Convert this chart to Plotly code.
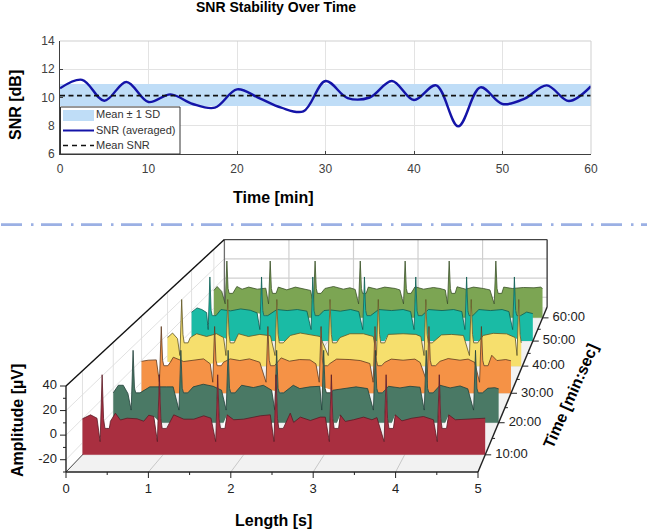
import plotly.graph_objects as go

FONT = "Liberation Sans"

# ---- SNR trend -------------------------------------------------------------
snr_minutes = [0, 2.5, 5, 7.5, 10, 12.5, 15, 17.5, 20, 22.5, 25, 27.5, 30, 32.5, 35,
               37.5, 40, 42.5, 45, 47.5, 50, 52.5, 55, 57.5, 60]
snr_db = [10.65, 11.25, 9.77, 11.1, 9.68, 10.22, 9.54, 9.28, 10.58, 9.96, 9.28, 9.02,
          11.17, 9.96, 10.0, 11.17, 9.82, 10.86, 7.96, 10.72, 9.54, 9.92, 10.86, 9.75, 10.8]
snr_mean = 10.13
snr_band = [9.4, 10.95]
legend_labels = ["Mean ± 1 SD", "SNR (averaged)", "Mean SNR"]

# ---- ECG waterfall: contour between beats as (seconds, µV) per recording time --
t_labels = ["10:00", "20:00", "30:00", "40:00", "50:00", "60:00"]
t_minutes = [10, 20, 30, 40, 50, 60]
colors = ["#A92F40", "#4A7965", "#F59246", "#F6DF6D", "#1ABBA5", "#7CA553"]
edge_colors = ["#5A1A24", "#21403A", "#5E3A20", "#5F5524", "#0E5A50", "#3A5028"]

red_s = [0.0, .10, .18, .347, .409, .471, .554, .678, .761, .823, .885, 1.05, 1.133, 1.258, 1.382,
         1.506, 1.596, 1.795, 1.878, 2.0, 2.208, 2.332, 2.498, 2.58, 2.622, 2.705, 2.83, 2.953, 3.015,
         3.201, 3.263, 3.366, 3.49, 3.594, 3.656, 3.883, 3.966, 4.09, 4.234, 4.358, 4.547, 4.63, 4.733, 4.9, 5.0]
red_uv = [0, 3.3, .5, -2, 4.7, -1, .5, 0, -2, 3, 2, .5, 3.3, -.3, -.3,
          2.5, .5, 3.3, -.8, -.3, 2.5, 3.3, -3.6, 4.7, -3, 1.4, -1.4, 1.4, 1.4,
          3.3, -2.2, -.8, 1.4, -.8, 1, 3.3, -1.7, .5, 1.9, -.8, 3.3, -.8, -.3, .5, .5]
red_r = [.244, .955, 1.679, 2.403, 3.09, 3.77, 4.43]

green_s = [0.0, .065, .129, .19, .344, .474, .69, .777, .929, 1.037, 1.167, 1.296, 1.405, 1.556, 1.665,
           1.817, 1.947, 2.055, 2.205, 2.335, 2.42, 2.55, 2.68, 2.85, 3.02, 3.15, 3.30, 3.52, 3.57, 3.72,
           3.85, 3.98, 4.24, 4.37, 4.50, 4.60, 4.86, 4.95, 5.0]
green_uv = [-4, 2.6, 2.6, -4.6, -1, 1.2, 1.2, 1.2, -1.7, 1.2, 3.5, 1.7, -1.7, -.3, 2.6,
            .6, 2.6, -1.7, -2.3, 2.6, -.3, 1.2, 1.7, -1.7, -.3, 1.2, -.3, -2, 1.7, .3,
            1.7, .9, 2.6, .3, 2, -.5, 0, .5, -.5]
green_r = [.257, .877, 1.49, 2.12, 2.73, 3.40, 4.06, 4.70]

orange_s = [0.0, .09, .2, .39, .43, .57, .70, .84, .93, 1.11, 1.20, 1.33, 1.46, 1.60, 1.89, 2.0, 2.14,
            2.28, 2.36, 2.55, 2.64, 2.82, 2.96, 3.09, 3.29, 3.38, 3.54, 3.70, 3.77, 4.04, 4.15, 4.31,
            4.42, 4.51, 4.74, 4.81, 4.93, 5.0]
orange_uv = [-1, 0, .3, -1.8, 2.7, -1.2, -.3, 1.2, -3.3, -1.8, 1.2, -.3, 1.2, -1.8, 2.1, -.9, .6,
             .3, -3.3, -3, 1, .6, -.3, -3, -2, 1, 0, 1, -2, -1, 1.5, 0,
             1, -2, 4.5, -.3, .6, -.5]
orange_r = [.267, .989, 1.71, 2.43, 3.16, 3.89, 4.60]

yellow_s = [0.0, .07, .14, .32, .41, .55, .69, .79, 1.0, 1.14, 1.30, 1.45, 1.73, 1.87, 2.0, 2.15, 2.43,
            2.57, 2.76, 2.90, 3.11, 3.32, 3.50, 3.57, 3.86, 4.0, 4.17, 4.45, 4.59, 4.78, 4.90]
yellow_uv = [-3, 1.3, -4, -3, .6, -2, .6, -3, .6, -2, 0, -1.3, -1, 1.3, 0, -2, -3,
             .6, .6, -2, 0, .6, 0, -2, -.5, 0, -1, -1, 1, .5, -3]
yellow_r = [.199, .848, 1.54, 2.29, 2.97, 3.64, 4.28, 4.95]

teal_s = [0.0, .08, .15, .22, .43, .57, .72, .86, .96, 1.25, 1.40, 1.55, 1.69, 1.94, 2.035, 2.18, 2.33,
          2.45, 2.74, 2.93, 3.10, 3.21, 3.47, 3.67, 3.84, 3.96, 4.21, 4.38, 4.55, 4.65, 4.91, 5.0]
teal_uv = [-1.6, 2.6, 1, -2, 1, -.3, 1.6, .3, -2.3, 1, 0, 1, -.6, 0, .6, -.6, 1,
           -1, 1, 0, 1, -1, 1, 0, 1, -1, 1, 0, 1, -1, -1.5, -3]
teal_r = [.268, 1.025, 1.776, 2.533, 3.285, 4.03, 4.73]

olive_s = [0.0, .05, .12, .35, .43, .53, .66, .79, .98, 1.11, 1.24, 1.39, 1.47, 1.69, 1.82, 1.97, 2.07,
           2.15, 2.35, 2.48, 2.60, 2.76, 2.83, 3.06, 3.19, 3.34, 3.44, 3.52, 3.70, 3.83, 3.95, 4.10, 4.2,
           4.41, 4.54, 4.71, 4.87, 4.97, 5.0]
olive_uv = [-2, 2, -3, 2, -.7, 1.4, -.7, .3, 1.4, -1.4, 1.4, -.7, -2, 0, 2, -.7, .7,
            -1, 1.4, -.7, 1.4, 0, -1.5, 1.7, -.7, 1, 0, -1.5, 1.7, -.7, 1.4, 0, -1.5,
            1.4, 0, 1, .7, 1.4, 0]
olive_r = [.198, .857, 1.54, 2.227, 2.91, 3.58, 4.29]

contours_s = [red_s, green_s, orange_s, yellow_s, teal_s, olive_s]
contours_uv = [red_uv, green_uv, orange_uv, yellow_uv, teal_uv, olive_uv]
r_peaks = [red_r, green_r, orange_r, yellow_r, teal_r, olive_r]
r_height = [36.7, 33, 30.6, 33, 33, 28]      # R wave, µV
q_depth = [-19, -19, -20, -20, -18.7, -15.7]  # sharp dip just ahead of R, µV
s_depth = [-8, -4, -5, -8, -5, -5]            # shelf right after R, µV

# ---- one-point perspective mapping of (seconds, minutes, µV) onto the page ------
VANISH_X, VANISH_Y = 797.0, -290.0
FRONT_X0, FRONT_PX_PER_S = 66.0, 82.4
FRONT_FLOOR_Y, FRONT_PX_PER_UV = 472.0, 86.0 / 70.0
X_RANGE = (0, 5)
T_RANGE = (5, 65)
Z_RANGE = (-30, 40)


def project(sec, minute, uv):
    k = 1.0 / (1.0 + (minute - T_RANGE[0]) * 0.00461)
    px = FRONT_X0 + sec * FRONT_PX_PER_S
    py = FRONT_FLOOR_Y - (uv - Z_RANGE[0]) * FRONT_PX_PER_UV
    return VANISH_X + (px - VANISH_X) * k, VANISH_Y + (py - VANISH_Y) * k


def beat_trace(idx):
    """Merge a contour with its QRS complexes and return ordered (s, µV) pairs."""
    pts = []
    for r in r_peaks[idx]:
        pts += [(r - .025, q_depth[idx]), (r, r_height[idx]), (r + .018, 0),
                (r + .035, s_depth[idx]), (r + .09, s_depth[idx])]
    for s, v in zip(contours_s[idx], contours_uv[idx]):
        if not any(r - .03 < s < r + .1 for r in r_peaks[idx]):
            pts.append((s, v))
    return sorted(p for p in pts if p[0] <= X_RANGE[1])


fig = go.Figure()


def screen_line(x, y, color, width, dash=None, **kw):
    fig.add_trace(go.Scatter(x=x, y=y, mode="lines", line=dict(color=color, width=width, dash=dash),
                             xaxis="x2", yaxis="y2", showlegend=False, hoverinfo="skip", **kw))


def pline(sec, minute, uv, color, width, **kw):
    pts = [project(a, b, c) for a, b, c in zip(sec, minute, uv)]
    screen_line([p[0] for p in pts], [p[1] for p in pts], color, width, **kw)


def screen_text(x, y, labels, position, size=13, color="#222222"):
    fig.add_trace(go.Scatter(x=x, y=y, text=labels, mode="text", textposition=position,
                             textfont=dict(family=FONT, size=size, color=color),
                             xaxis="x2", yaxis="y2", showlegend=False, hoverinfo="skip"))


# ---- top panel ---------------------------------------------------------------
BAND, TRACE = "#BFDDF7", "#1414A8"
fig.add_trace(go.Scatter(x=[0, 60, 60, 0], y=[snr_band[0], snr_band[0], snr_band[1], snr_band[1]],
                         fill="toself", fillcolor=BAND, mode="lines", line=dict(width=0),
                         showlegend=False, hoverinfo="skip"))
fig.add_trace(go.Scatter(x=snr_minutes, y=snr_db, mode="lines", showlegend=False,
                         line=dict(color=TRACE, width=2.4, shape="spline", smoothing=1.0)))
fig.add_trace(go.Scatter(x=[0, 60], y=[snr_mean, snr_mean], mode="lines", showlegend=False,
                         line=dict(color="#111111", width=1.7, dash="5px,3.5px")))

# compact key box in the lower-left corner of the panel
screen_line([60.5, 180, 180, 60.5, 60.5], [107, 107, 154, 154, 107], "#333333", 1,
            fill="toself", fillcolor="white")
screen_line([63, 94, 94, 63, 63], [110, 110, 121, 121, 110], "rgba(0,0,0,0)", 0,
            fill="toself", fillcolor=BAND)
screen_line([63, 94], [130.5, 130.5], TRACE, 2)
screen_line([63, 94], [145.5, 145.5], "#111111", 1.6, dash="5px,4px")
screen_text([96, 96, 96], [115.5, 131, 146], legend_labels, "middle right", size=11, color="#333333")

# ---- waterfall box: floor and walls ---------------------------------------------
x0, x1 = X_RANGE
t0, t1 = T_RANGE
z0, z1 = Z_RANGE
pline([x0, x1, x1, x0, x0], [t0, t0, t1, t1, t0], [z0] * 5, "rgba(0,0,0,0)", 0,
      fill="toself", fillcolor="#F2F2F2")
GRID_BACK, GRID_SIDE = "#CFCFCF", "#DEDEDE"
for s in [1, 2, 3, 4]:
    pline([s, s], [t0, t1], [z0, z0], "#BDBDBD", 0.8)
    pline([s, s], [t1, t1], [z0, z1], GRID_BACK, 1.2)
for t in t_minutes:
    pline([x0, x1], [t, t], [z0, z0], "#D8D8D8", 0.8)
    pline([x0, x0], [t, t], [z0, z1], GRID_SIDE, 0.9)
for z in [-20, 0, 20]:
    pline([x0, x1], [t1, t1], [z, z], GRID_BACK, 1.2)
    pline([x0, x0], [t0, t1], [z, z], GRID_SIDE, 0.9)
pline([x0, x0], [t1, t1], [z0, z1], "#6E6E6E", 1.3)
pline([x1, x1], [t1, t1], [z0, z1], "#333333", 1.3)
pline([x0, x1], [t1, t1], [z1, z1], "#444444", 1.3)
pline([x0, x0], [t0, t1], [z1, z1], "#111111", 1.4)
pline([x0, x0], [t0, t1], [z0, z0], "#444444", 1.0)

# ---- waterfall slices, farthest first -------------------------------------------
for i in reversed(range(len(t_minutes))):
    t = t_minutes[i]
    pts = beat_trace(i)
    sec = [p[0] for p in pts]
    uv = [p[1] for p in pts]
    # pale backing so the dips read as bright notches in the coloured sheet
    for r in r_peaks[i]:
        seg = [(a, b) for a, b in pts if r - .07 <= a <= r + .14]
        pline([a for a, _ in seg], [t] * len(seg), [b for _, b in seg], "rgba(0,0,0,0)", 0,
              fill="toself", fillcolor="#FFFFFF")
    pline([sec[0]] + sec + [sec[-1]], [t] * (len(sec) + 2), [z0] + uv + [z0],
          "rgba(0,0,0,0)", 0, fill="toself", fillcolor=colors[i])
    pline(sec, [t] * len(sec), uv, edge_colors[i], 0.8)

# ---- waterfall axes -------------------------------------------------------------
AXIS = "#222222"
pline([x0, x1], [t0, t0], [z0, z0], AXIS, 1.4)
pline([x0, x0], [t0, t0], [z0, z1], AXIS, 1.4)
pline([x1, x1], [t0, t1], [z0, z0], AXIS, 1.4)

x_ticks = [0, 1, 2, 3, 4, 5]
x_minor = [.5, 1.5, 2.5, 3.5, 4.5]
z_ticks = [-20, 0, 20, 40]
z_minor = [-30, -10, 10, 30]
t_minor = [15, 25, 35, 45, 55]


def tick(anchor, dx, dy):
    screen_line([anchor[0], anchor[0] + dx], [anchor[1], anchor[1] + dy], AXIS, 1)


for s in x_ticks:
    tick(project(s, t0, z0), 0, 6)
for s in x_minor:
    tick(project(s, t0, z0), 0, 3)
for z in z_ticks:
    tick(project(x0, t0, z), -6, 0)
for z in z_minor:
    tick(project(x0, t0, z), -3, 0)
for t in t_minutes:
    tick(project(x1, t, z0), 6, 0)
for t in t_minor:
    tick(project(x1, t, z0), 3, 0)

xt = [project(s, t0, z0) for s in x_ticks]
screen_text([p[0] for p in xt], [p[1] + 18 for p in xt], [str(s) for s in x_ticks], "middle center")
zt = [project(x0, t0, z) for z in z_ticks]
screen_text([p[0] - 9 for p in zt], [p[1] for p in zt], [str(z) for z in z_ticks], "middle left")
tt = [project(x1, t, z0) for t in t_minutes]
screen_text([p[0] + 10 for p in tt], [p[1] for p in tt], t_labels, "middle right")

# ---- layout --------------------------------------------------------------------
WIDTH, HEIGHT = 647, 531
top_left, top_right, top_y, bottom_y = 60, 591, 41, 154

common_axis = dict(showgrid=True, gridcolor="#E3E3E3", gridwidth=1, zeroline=False, automargin=False,
                   showline=True, linecolor="#404040", linewidth=1, ticks="inside", ticklen=3,
                   tickcolor="#404040", tickfont=dict(family=FONT, size=12, color="#404040"))


def note(x, y, text, size=16, angle=0):
    return dict(x=x / WIDTH, y=1 - y / HEIGHT, xref="paper", yref="paper", text=f"<b>{text}</b>",
                showarrow=False, textangle=angle, xanchor="center", yanchor="middle",
                font=dict(family=FONT, size=size, color="#000000"))


fig.update_layout(
    template="none",
    width=WIDTH, height=HEIGHT, margin=dict(l=0, r=0, t=0, b=0, pad=0), autosize=False,
    paper_bgcolor="white", plot_bgcolor="rgba(0,0,0,0)", hovermode=False, showlegend=False,
    title=dict(text="<b>SNR Stability Over Time</b>", x=276 / WIDTH, xanchor="center",
               y=1 - 7 / HEIGHT, yanchor="middle", font=dict(family=FONT, size=14, color="#000000")),
    xaxis=dict(domain=[top_left / WIDTH, top_right / WIDTH], range=[0, 60], tickvals=list(range(0, 61, 10)),
               anchor="y", ticklabelstandoff=4, **common_axis),
    yaxis=dict(domain=[1 - bottom_y / HEIGHT, 1 - top_y / HEIGHT], range=[6, 14], tickvals=[6, 8, 10, 12, 14],
               anchor="x", ticklabelstandoff=2, **common_axis),
    xaxis2=dict(domain=[0, 1], range=[0, WIDTH], visible=False, anchor="y2", fixedrange=True, automargin=False),
    yaxis2=dict(domain=[0, 1], range=[HEIGHT, 0], visible=False, anchor="x2", fixedrange=True, automargin=False),
    annotations=[
        note(273, 197, "Time [min]"),
        note(15, 105, "SNR [dB]", angle=-90),
        note(273, 520, "Length [s]"),
        note(17, 421, "Amplitude [µV]", angle=-90),
        note(570, 396, "Time [min:sec]", angle=-66),
    ],
    shapes=[
        dict(type="line", xref="paper", yref="paper", x0=top_left / WIDTH, x1=top_right / WIDTH,
             y0=1 - top_y / HEIGHT, y1=1 - top_y / HEIGHT, line=dict(color="#CFCFCF", width=1)),
        dict(type="line", xref="paper", yref="paper", x0=top_right / WIDTH, x1=top_right / WIDTH,
             y0=1 - top_y / HEIGHT, y1=1 - bottom_y / HEIGHT, line=dict(color="#CFCFCF", width=1)),
        dict(type="line", xref="paper", yref="paper", x0=1 / WIDTH, x1=1, y0=1 - 224.7 / HEIGHT, y1=1 - 224.7 / HEIGHT,
             line=dict(color="#9BB0E4", width=2.8, dash="21px,9px,2.5px,7.5px")),
    ],
)

fig.write_html("out.html")
